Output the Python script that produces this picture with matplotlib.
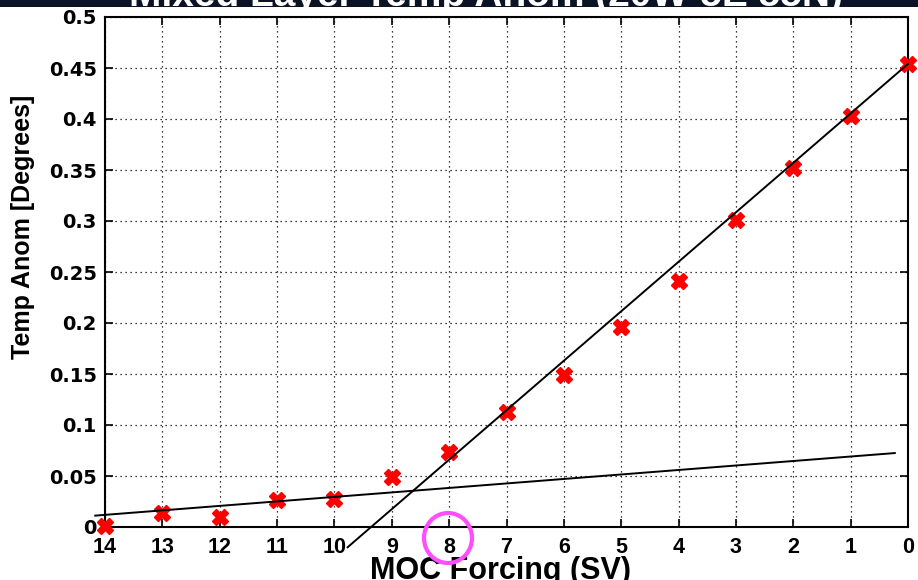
"""
MOC forcing vs mixed layer temperature anomaly, with two linear fits.
"""
import matplotlib

matplotlib.use("Agg")
import matplotlib.pyplot as plt  # noqa: E402
import numpy as np  # noqa: E402
from matplotlib.patches import Ellipse, Rectangle  # noqa: E402

# data
moc_forcing = [14, 13, 12, 11, 10, 9, 8, 7, 6, 5, 4, 3, 2, 1, 0]
temp_anom = [0.001, 0.0135, 0.010, 0.026, 0.027, 0.049, 0.074, 0.113, 0.149,
             0.196, 0.241, 0.301, 0.352, 0.403, 0.454]

# two fitted lines: (intercept, slope, x start, x end)
shallow_fit = (0.0735, -0.0044, 14.17, 0.23)
steep_fit = (0.454, -0.0485, 9.77, 0.0)

x_ticks = list(range(0, 15))
y_ticks = [0, 0.05, 0.1, 0.15, 0.2, 0.25, 0.3, 0.35, 0.4, 0.45, 0.5]
y_tick_labels = ["0", "0.05", "0.1", "0.15", "0.2", "0.25", "0.3", "0.35", "0.4", "0.45", "0.5"]

title = "Mixed Layer Temp Anom (20W-5E 55N)"
x_label = "MOC Forcing (SV)"
y_label = "Temp Anom [Degrees]"

plt.rcParams["font.family"] = ["Liberation Sans", "DejaVu Sans"]

fig = plt.figure(figsize=(9.18, 5.8), dpi=100)
ax = fig.add_axes([105 / 918, 53 / 580, 803 / 918, 510 / 580])

ax.set_xlim(14, 0)
ax.set_ylim(0, 0.5)

for b, m, x0, x1 in (shallow_fit, steep_fit):
    xs = np.array([x0, x1])
    ax.plot(xs, b + m * xs, color="black", lw=1.4, clip_on=False, zorder=4)

ax.plot(moc_forcing, temp_anom, ls="none", marker="X", ms=12, color="#ff0000",
        mec="#ff0000", clip_on=False, zorder=3)

ax.set_xticks(x_ticks)
ax.set_xticklabels([str(v) for v in x_ticks], fontsize=15.5, fontweight="bold")
ax.set_yticks(y_ticks)
ax.set_yticklabels(y_tick_labels, fontsize=14, fontweight="bold", family="DejaVu Sans")
ax.tick_params(direction="in", length=6, width=1.2, top=True, right=True, color="black")
ax.tick_params(axis="x", pad=7)
ax.tick_params(axis="y", pad=6)
ax.grid(True, color="black", lw=0.9, ls=(0, (1, 3)))
for s in ax.spines.values():
    s.set_linewidth(1.5)

fig.text(500 / 918, 1 - 556 / 580, x_label, fontsize=22, fontweight="bold",
         ha="center", va="top")
fig.text(23 / 918, 1 - 227 / 580, y_label, fontsize=18, fontweight="bold",
         rotation=90, ha="center", va="center")

# dark banner with the cut-off title
fig.patches.append(Rectangle((0, 1 - 7 / 580), 1, 7 / 580, transform=fig.transFigure,
                             facecolor="#0b1424", edgecolor="none", zorder=0))
fig.text(486 / 918, 1 - 6 / 580, title, fontsize=28, fontweight="bold", color="white",
         ha="center", va="baseline")

# magenta circle around the "8" tick label
fig.patches.append(Ellipse((448 / 918, 1 - 538 / 580), 48 / 918, 50 / 580,
                           transform=fig.transFigure, facecolor="none",
                           edgecolor="#ff4dff", lw=3, zorder=5))

fig.savefig("out.png", dpi=100)
